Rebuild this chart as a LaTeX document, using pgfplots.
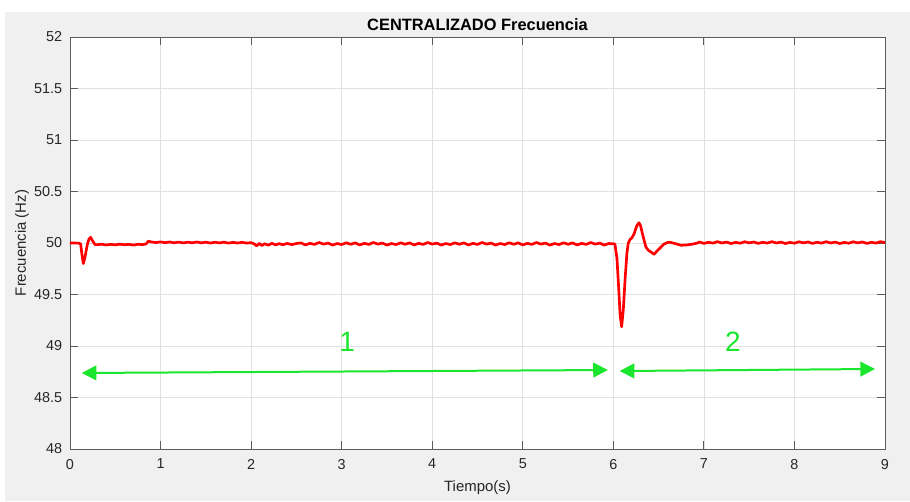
\documentclass[border=0pt]{standalone}
\usepackage{fontspec}
\setmainfont{Liberation Sans}
\usepackage{pgfplots}
\usepackage{pgfplotstable}
\pgfplotsset{compat=1.18}
\usetikzlibrary{arrows.meta}

\definecolor{figbg}{RGB}{240,240,240}
\definecolor{axgray}{RGB}{38,38,38}
\definecolor{gridgray}{RGB}{225,225,225}
\definecolor{arrgreen}{RGB}{25,230,45}

% frecuencia medida (Hz) vs tiempo (s)
\pgfplotstableread{
t f
0.000 50.000
0.050 50.000
0.100 49.998
0.118 49.990
0.130 49.900
0.147 49.800
0.165 49.860
0.190 49.980
0.210 50.040
0.228 50.055
0.250 50.020
0.276 49.985
0.300 49.984
0.350 49.988
0.400 49.981
0.450 49.987
0.500 49.982
0.550 49.989
0.600 49.983
0.650 49.987
0.700 49.980
0.750 49.988
0.800 49.984
0.840 49.990
0.865 50.018
0.900 50.010
0.950 50.004
1.000 50.011
1.050 50.003
1.100 50.010
1.150 50.002
1.200 50.009
1.250 50.001
1.300 50.008
1.350 50.002
1.400 50.010
1.450 50.001
1.500 50.008
1.550 50.000
1.600 50.007
1.650 50.001
1.700 50.008
1.750 49.999
1.800 50.006
1.850 50.000
1.900 50.007
1.950 49.999
2.000 50.004
2.040 49.988
2.060 49.972
2.090 49.995
2.120 49.976
2.150 49.993
2.190 49.979
2.230 49.997
2.270 49.981
2.310 49.994
2.350 49.983
2.400 49.996
2.450 49.984
2.500 49.995
2.55 50.001
2.60 49.981
2.65 49.997
2.70 49.986
2.75 50.005
2.80 49.989
2.85 49.999
2.90 49.980
2.95 49.995
3.00 49.985
3.05 50.002
3.10 49.988
3.15 50.001
3.20 49.981
3.25 49.997
3.30 49.986
3.35 50.005
3.40 49.989
3.45 49.999
3.50 49.980
3.55 49.995
3.60 49.985
3.65 50.002
3.70 49.988
3.75 50.001
3.80 49.981
3.85 49.997
3.90 49.986
3.95 50.005
4.00 49.989
4.05 49.999
4.10 49.980
4.15 49.995
4.20 49.985
4.25 50.002
4.30 49.988
4.35 50.001
4.40 49.981
4.45 49.997
4.50 49.986
4.55 50.005
4.60 49.989
4.65 49.999
4.70 49.980
4.75 49.995
4.80 49.985
4.85 50.002
4.90 49.988
4.95 50.001
5.00 49.981
5.05 49.997
5.10 49.986
5.15 50.005
5.20 49.989
5.25 49.999
5.30 49.980
5.35 49.995
5.40 49.985
5.45 50.002
5.50 49.988
5.55 50.001
5.60 49.981
5.65 49.997
5.70 49.986
5.75 50.005
5.80 49.989
5.85 49.999
5.90 49.980
5.95 49.995
6.000 49.992
6.018 49.990
6.040 49.850
6.060 49.550
6.075 49.300
6.092 49.187
6.110 49.350
6.130 49.650
6.150 49.900
6.165 50.000
6.185 50.035
6.202 50.046
6.230 50.090
6.260 50.170
6.283 50.197
6.300 50.170
6.330 50.060
6.360 49.960
6.386 49.930
6.420 49.910
6.449 49.890
6.480 49.920
6.515 49.950
6.560 49.990
6.600 50.005
6.625 50.007
6.680 49.995
6.750 49.978
6.820 49.982
6.880 49.990
6.930 50.000
6.95 50.010
7.00 49.996
7.05 50.007
7.10 49.999
7.15 50.013
7.20 50.000
7.25 50.009
7.30 49.995
7.35 50.006
7.40 49.998
7.45 50.012
7.50 50.001
7.55 50.010
7.60 49.996
7.65 50.007
7.70 49.999
7.75 50.013
7.80 50.000
7.85 50.009
7.90 49.995
7.95 50.006
8.00 49.998
8.05 50.012
8.10 50.001
8.15 50.010
8.20 49.996
8.25 50.007
8.30 49.999
8.35 50.013
8.40 50.000
8.45 50.009
8.50 49.995
8.55 50.006
8.60 49.998
8.65 50.012
8.70 50.001
8.75 50.010
8.80 49.996
8.85 50.007
8.90 49.999
8.95 50.013
9.00 50.004
}\freqdata

\begin{document}
\begin{tikzpicture}
% fondo de la figura (estilo MATLAB)
\fill[white] (-52.5pt,-39pt) rectangle (630pt,336.75pt);
\fill[figbg] (-48.75pt,-39pt) rectangle (630pt,327.75pt);
\begin{axis}[
    at={(0,0)}, anchor=south west,
    scale only axis,
    width=611.25pt, height=309pt,
    xmin=0, xmax=9, ymin=48, ymax=52,
    xtick={0,1,...,9},
    ytick={48,48.5,...,52},
    yticklabels={48,48.5,49,49.5,50,50.5,51,51.5,52},
    axis background/.style={fill=white},
    grid=major,
    major grid style={color=gridgray, line width=0.5pt},
    axis line style={color=axgray!75, line width=0.6pt},
    tick align=inside,
    major tick length=6pt,
    major tick style={color=axgray!75, line width=0.6pt},
    tick label style={font=\fontsize{10.8}{13}\selectfont, text=axgray},
    /pgf/number format/assume math mode=true,
    xticklabel style={yshift=-4pt},
    yticklabel style={xshift=-2.4pt},
    title={CENTRALIZADO Frecuencia},
    title style={font=\fontsize{12.3}{14}\selectfont\bfseries, text=black,
                 at={(axis description cs:0.5,1.0097)}, anchor=center},
    xlabel={Tiempo(s)},
    ylabel={Frecuencia (Hz)},
    label style={font=\fontsize{11.2}{13}\selectfont, text=axgray},
    xlabel style={at={(axis description cs:0.5,-0.0939)}, anchor=center},
    ylabel style={at={(axis description cs:-0.0589,0.5)}, anchor=center},
]
\addplot[red, line width=2pt, line join=round] table[x=t, y=f] {\freqdata};

% intervalos 1 y 2
\addplot[arrgreen, line width=1.5pt,
    {Triangle[length=11pt,width=11pt]}-{Triangle[length=11pt,width=11pt]}]
    coordinates {(0.13,48.738) (5.94,48.767)};
\addplot[arrgreen, line width=1.5pt,
    {Triangle[length=11pt,width=11pt]}-{Triangle[length=11pt,width=11pt]}]
    coordinates {(6.07,48.757) (8.89,48.777)};
\node[text=arrgreen, font=\fontsize{21}{24}\selectfont] at (axis cs:3.06,49.04) {1};
\node[text=arrgreen, font=\fontsize{21}{24}\selectfont] at (axis cs:7.32,49.04) {2};
\end{axis}
\end{tikzpicture}
\end{document}
